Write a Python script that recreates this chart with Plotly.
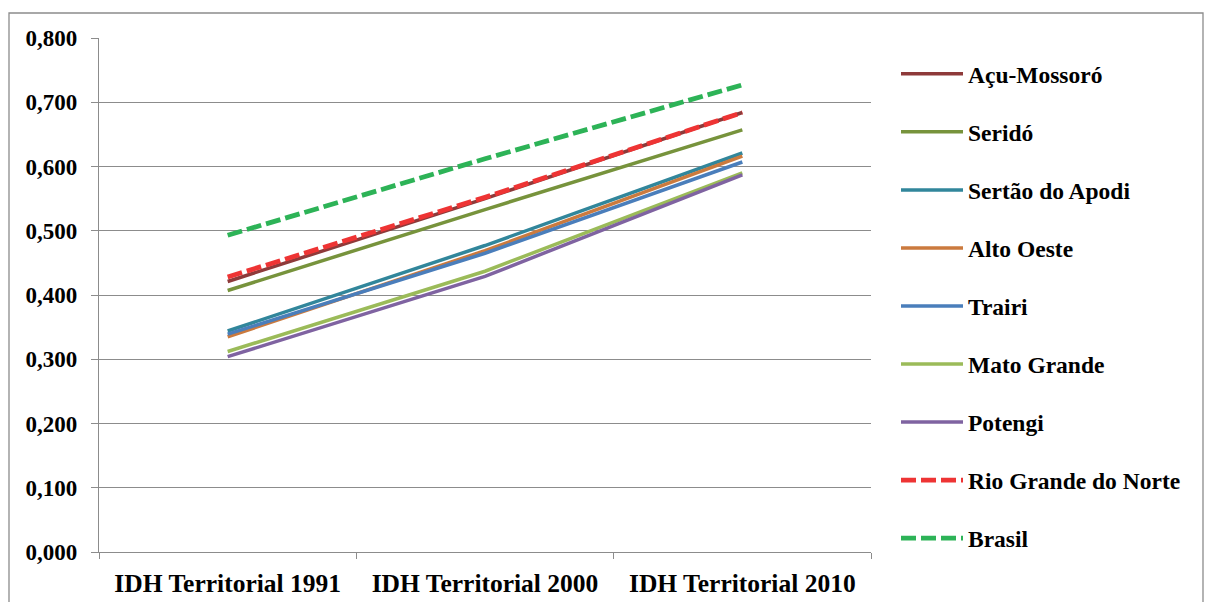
import plotly.graph_objects as go

# IDH territorial por território do RN, com referências estadual e nacional
categorias = ["IDH Territorial 1991", "IDH Territorial 2000", "IDH Territorial 2010"]

acu_mossoro = [0.421, 0.550, 0.684]
serido = [0.407, 0.533, 0.657]
sertao_apodi = [0.344, 0.477, 0.621]
alto_oeste = [0.335, 0.469, 0.616]
trairi = [0.339, 0.465, 0.607]
mato_grande = [0.312, 0.437, 0.590]
potengi = [0.304, 0.429, 0.587]
rio_grande_norte = [0.428, 0.552, 0.684]
brasil = [0.493, 0.612, 0.727]

y_ticks = [0.0, 0.1, 0.2, 0.3, 0.4, 0.5, 0.6, 0.7, 0.8]
y_tick_labels = ["0,000", "0,100", "0,200", "0,300", "0,400", "0,500", "0,600", "0,700", "0,800"]

series = [
    ("Açu-Mossoró", acu_mossoro, "#8E3A3A", "solid", 3.5),
    ("Seridó", serido, "#77933C", "solid", 3.5),
    ("Sertão do Apodi", sertao_apodi, "#31869B", "solid", 3.5),
    ("Alto Oeste", alto_oeste, "#CB7A3E", "solid", 3.5),
    ("Trairi", trairi, "#4A7EBB", "solid", 3.5),
    ("Mato Grande", mato_grande, "#9BBB59", "solid", 3.5),
    ("Potengi", potengi, "#7F63A1", "solid", 3.5),
    ("Rio Grande do Norte", rio_grande_norte, "#EE3434", "15px,5px", 4.8),
    ("Brasil", brasil, "#2DB357", "15px,5px", 4.8),
]

FONT = "Liberation Serif, Times New Roman, Times, serif"

fig = go.Figure()
for i, (nome, valores, cor, traco, largura) in enumerate(series):
    fig.add_trace(go.Scatter(
        x=categorias, y=valores, mode="lines", name=nome,
        legendgroup=f"g{i}",
        line=dict(color=cor, width=largura, dash=traco),
    ))

W, H = 1205, 602
L, R, T, B = 99, 334, 38, 50
pw, ph = W - L - R, H - T - B

def px_x(px):
    return (px - L) / pw

def px_y(py):
    return (H - B - py) / ph

fig.update_layout(
    width=W, height=H,
    margin=dict(l=L, r=R, t=T, b=B, autoexpand=False),
    paper_bgcolor="white", plot_bgcolor="white",
    font=dict(family=FONT, color="black"),
    showlegend=True,
    legend=dict(
        x=px_x(896), y=px_y(52), xanchor="left", yanchor="top",
        font=dict(family=FONT, size=23.5, color="black", weight="bold"),
        tracegroupgap=24.5, itemwidth=62, maxheight=1,
        bgcolor="rgba(0,0,0,0)",
    ),
    xaxis=dict(
        type="category", range=[-0.5, 2.5], automargin=False, tickangle=0,
        showgrid=False, showline=True, linecolor="#8C8C8C", linewidth=1.3,
        ticks="outside", tickson="boundaries", ticklen=6, tickcolor="#8C8C8C",
        ticklabelstandoff=8,
        tickfont=dict(family=FONT, size=25.5, color="black", weight="bold"),
        zeroline=False,
    ),
    yaxis=dict(
        range=[0, 0.8], tickvals=y_ticks, ticktext=y_tick_labels, automargin=False,
        showgrid=True, gridcolor="#8C8C8C", gridwidth=1.3,
        showline=True, linecolor="#8C8C8C", linewidth=1.3,
        ticks="outside", ticklen=7, tickcolor="#8C8C8C",
        ticklabelstandoff=9,
        tickfont=dict(family=FONT, size=23, color="black", weight="bold"),
        zeroline=False,
    ),
    shapes=[dict(
        type="rect", xref="paper", yref="paper",
        x0=px_x(9), x1=px_x(1203), y0=px_y(640), y1=px_y(13),
        line=dict(color="#8C8C8C", width=1.3), fillcolor="rgba(0,0,0,0)",
        layer="below",
    )],
)

fig.write_html("out.html")
